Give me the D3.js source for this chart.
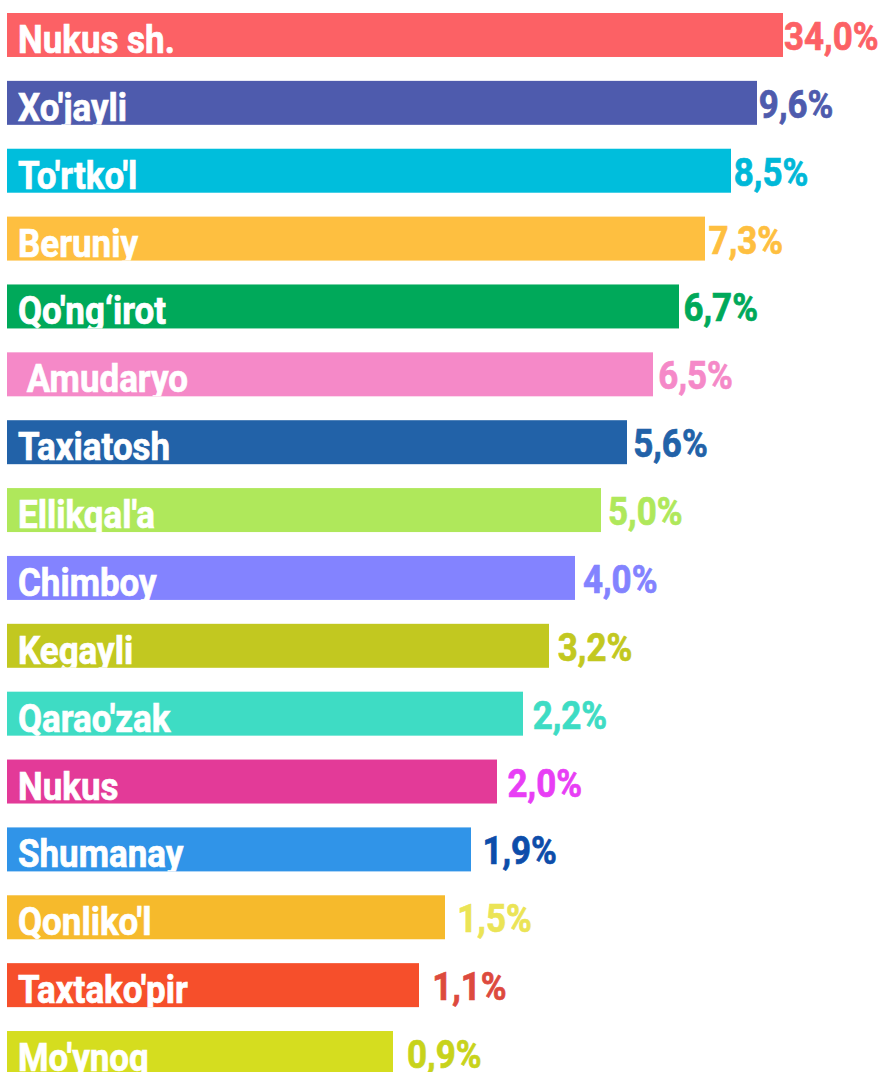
<!DOCTYPE html>
<html>
<head>
<meta charset="utf-8">
<script src="https://cdn.jsdelivr.net/npm/d3@7"></script>
<style>
  html, body { margin: 0; padding: 0; background: #ffffff; }
  svg { display: block; }
  text { font-family: Roboto, "Noto Sans", sans-serif; font-weight: 700; }
</style>
</head>
<body>
<svg id="chart" width="882" height="1072"></svg>
<script>
// ---- data ----
const categories = ["Nukus sh.", "Xo'jayli", "To'rtko'l", "Beruniy", "Qo'ng\u2018irot", " Amudaryo",
  "Taxiatosh", "Ellikqal'a", "Chimboy", "Kegayli", "Qarao'zak", "Nukus", "Shumanay",
  "Qonliko'l", "Taxtako'pir", "Mo'ynoq"];
const values = [34.0, 9.6, 8.5, 7.3, 6.7, 6.5, 5.6, 5.0, 4.0, 3.2, 2.2, 2.0, 1.9, 1.5, 1.1, 0.9];
const barColors = ["#fc6165", "#4e5bad", "#00bedc", "#febf40", "#00a95a", "#f589c8",
  "#2262a8", "#afe85b", "#8383ff", "#c2c820", "#3edcc4", "#e33a98", "#3094e8",
  "#f6ba2c", "#f64f2b", "#d5dd1f"];
const labelColors = ["#fc6165", "#4e5bad", "#00b8d8", "#febf40", "#00a95a", "#f589c8",
  "#2262a8", "#afe85b", "#8383ff", "#c2c820", "#3edcc4", "#e83ef5", "#0d4daa",
  "#ebe456", "#dd4a3e", "#c8d31b"];

const rows = categories.map((c, i) => ({ name: c, value: values[i], rank: i,
  bar: barColors[i], label: labelColors[i] }));

const svg = d3.select("#chart");
const left = 7;

const y = d3.scaleBand()
  .domain(d3.range(rows.length))
  .range([13, 1075])
  .paddingInner(0.352)
  .paddingOuter(0);

// infographic bars: length follows rank order
const w = d3.scaleLinear()
  .domain([0, rows.length - 1])
  .range([776, 386]);

// value labels sit a little further from shorter bars
const gap = d3.scaleLinear()
  .domain([0, rows.length - 1])
  .range([1, 14]);

const locale = d3.formatLocale({ decimal: ",", thousands: " ", grouping: [3], currency: ["", ""] });
const fmt = v => locale.format(".1f")(v) + "%";

const defs = svg.append("defs");
defs.selectAll("clipPath").data(rows).join("clipPath")
  .attr("id", d => "clip" + d.rank)
  .append("rect")
  .attr("x", left)
  .attr("y", d => y(d.rank))
  .attr("width", d => w(d.rank))
  .attr("height", y.bandwidth());

const g = svg.selectAll("g.row").data(rows).join("g").attr("class", "row");

g.append("rect")
  .attr("x", left)
  .attr("y", d => y(d.rank))
  .attr("width", d => w(d.rank))
  .attr("height", y.bandwidth())
  .attr("fill", d => d.bar);

const sx = 0.92;
const fs = 38;

g.append("g")
  .attr("clip-path", d => `url(#clip${d.rank})`)
  .append("text")
  .attr("transform", d => `translate(${left + 11},${y(d.rank) + 40}) scale(${sx},1)`)
  .attr("font-size", fs)
  .attr("fill", "#ffffff")
  .attr("stroke", "#ffffff")
  .attr("stroke-width", 0.7)
  .style("white-space", "pre")
  .attr("xml:space", "preserve")
  .text(d => d.name);

g.append("text")
  .attr("transform", d => `translate(${left + w(d.rank) + gap(d.rank)},${y(d.rank) + 37}) scale(${sx},1)`)
  .attr("font-size", fs)
  .attr("fill", d => d.label)
  .attr("stroke", d => d.label)
  .attr("stroke-width", 0.7)
  .text(d => fmt(d.value));
</script>
</body>
</html>
